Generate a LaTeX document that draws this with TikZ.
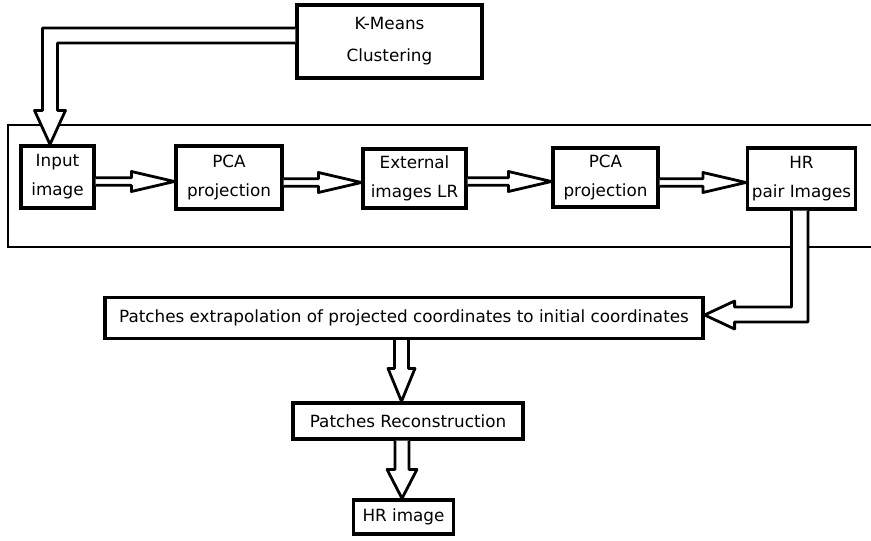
\documentclass[tikz,border=0pt]{standalone}
\usepackage{fontspec}
\setmainfont{DejaVu Sans}
\usetikzlibrary{calc}
\tikzset{
  box/.style={draw, line width=3.2pt, inner sep=0pt, align=center, font=\fontsize{16.8}{29}\selectfont},
  arr/.style={draw, line width=2.8pt, fill=white, line join=round},
  cont/.style={draw, line width=2.8pt}
}
\newcommand\harrow[2]{%
  \path (#1.east |- #2.west) ++(0,4) coordinate (S);
  \path (#2.west) ++(0,4) coordinate (T);
  \draw[arr] ($(S)+(0,-3.8)$) -- ($(T)+(-43,-3.8)$) -- ($(T)+(-43,-10)$) -- (T)
    -- ($(T)+(-43,10)$) -- ($(T)+(-43,3.8)$) -- ($(S)+(0,3.8)$);
}
\newcommand\varrow[5]{% from node #1, to node #2, tip x offset #3, head length #4, head half #5
  \path (#2.north) ++(#3,0) coordinate (T);
  \path (T |- #1.south) coordinate (S);
  \draw[arr] ($(S)+(-7,0)$) -- ($(T)+(-7,-#4)$) -- ($(T)+(-#5,-#4)$) -- (T)
    -- ($(T)+(#5,-#4)$) -- ($(T)+(7,-#4)$) -- ($(S)+(7,0)$);
}
\begin{document}
\begin{tikzpicture}[x=1pt,y=-1pt]
\useasboundingbox (0,0) rectangle (871,541);
% container
\draw[cont] (871,125) -- (8,125) -- (8,247) -- (871,247);
% nodes
\node[box, minimum width=185pt, minimum height=73pt] (km) at (389.5,41.5) {K-Means\\[3pt]Clustering};
\node[box, minimum width=73pt, minimum height=62pt] (in) at (57.5,177) {Input\\image};
\node[box, minimum width=106pt, minimum height=63pt] (pca1) at (229,177.5) {PCA\\projection};
\node[box, minimum width=103pt, minimum height=59pt] (ext) at (414.5,178.5) {External\\images LR};
\node[box, minimum width=105pt, minimum height=59pt] (pca2) at (605.5,177.5) {PCA\\projection};
\node[box, minimum width=108pt, minimum height=61pt] (hr) at (801.5,178.5) {HR\\pair Images};
\node[box, minimum width=598pt, minimum height=41pt] (pe) at (404,318) {Patches extrapolation of projected coordinates to initial coordinates};
\node[box, minimum width=230pt, minimum height=36pt] (pr) at (408,421) {Patches Reconstruction};
\node[box, minimum width=100pt, minimum height=34pt] (hri) at (403.5,517) {HR image};
% horizontal arrows
\harrow{in}{pca1}
\harrow{pca1}{ext}
\harrow{ext}{pca2}
\harrow{pca2}{hr}
% K-Means arrow
\coordinate (KT) at ($(in.north)+(-7.5,0)$);
\coordinate (K1) at ($(km.west)+(0,-13.5)$);
\coordinate (K2) at ($(km.west)+(0,1.5)$);
\draw[arr] (K1) -| ($(KT)+(-7.5,-34)$) -- ($(KT)+(-15.5,-34)$) -- (KT)
  -- ($(KT)+(15.5,-34)$) -- ($(KT)+(7.5,-34)$) |- (K2);
% HR pair -> patches extrapolation
\coordinate (HT) at ($(pe.east)+(0,-3)$);
\draw[arr] ($(hr.south)+(-10,0)$) |- ($(HT)+(30,-8)$) -- ($(HT)+(30,-14)$) -- (HT)
  -- ($(HT)+(30,14)$) -- ($(HT)+(30,7)$) -| ($(hr.south)+(6.5,0)$);
% vertical arrows
\varrow{pe}{pr}{-6.5}{33}{13.5}
\varrow{pr}{hri}{-1.5}{29}{15}
\end{tikzpicture}
\end{document}
